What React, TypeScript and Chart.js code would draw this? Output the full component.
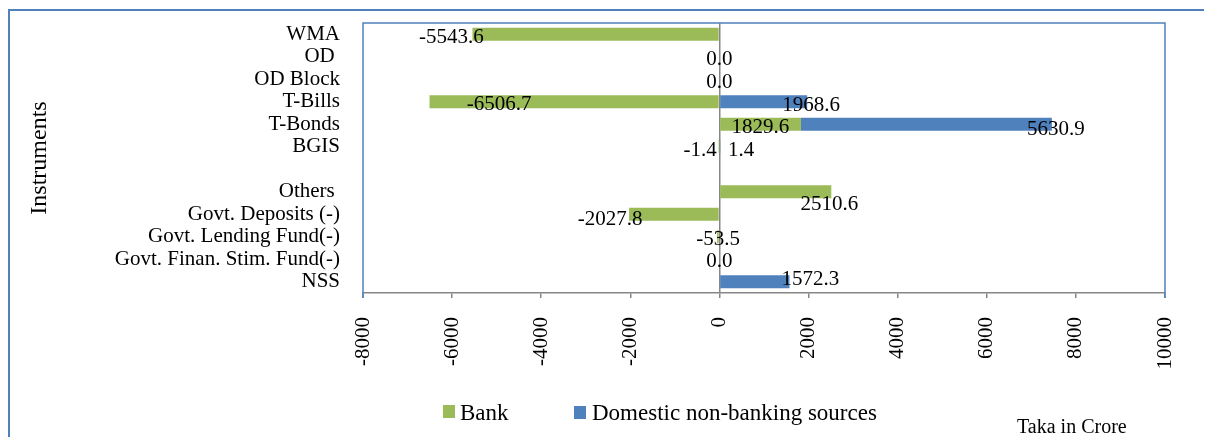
import React, { useEffect, useRef } from "react";
import { Chart, registerables } from "chart.js";

Chart.register(...registerables);

// ---------- data ----------
const categories = [
  "WMA",
  "OD ",
  "OD Block",
  "T-Bills",
  "T-Bonds",
  "BGIS",
  "",
  "Others ",
  "Govt. Deposits (-)",
  "Govt. Lending Fund(-)",
  "Govt. Finan. Stim. Fund(-)",
  "NSS",
];
const bankValues: (number | null)[] = [-5543.6, 0.0, 0.0, -6506.7, 1829.6, -1.4, null, 2510.6, -2027.8, -53.5, 0.0, null];
const nonBankValues: (number | null)[] = [null, null, null, 1968.6, 5630.9, 1.4, null, null, null, null, null, 1572.3];
const seriesNames = ["Bank", "Domestic non-banking sources"];
const xMin = -8000;
const xMax = 10000;
const xStep = 2000;
const yAxisTitle = "Instruments";
const unitNote = "Taka in Crore";
const chartTitle = "Chart 4: Instrument-wise Government Net Borrowings (Net), July-August of FY24";

// ---------- styles ----------
const SERIF = "'Times New Roman', 'Liberation Serif', serif";
const seriesColors = ["#9BBB59", "#4F81BD"];
const FRAME_BLUE = "#4F81BD";
const AXIS_GRAY = "#868686";

// label nudges [dx, dy] relative to bar end / row centre (hand-placed labels in source)
const bankLabelShift: [number, number][] = [
  [-21, 1.3], [0, 1], [0, 1.2], [69.5, 1.3], [-40.6, 1.3], [-19.2, 2.3], [0, 0], [-2, 10.7], [-19, 3.7], [1, 1.5], [0, 0.7], [0, 0],
];
const nonBankLabelShift: [number, number][] = [
  [0, 0], [0, 0], [0, 0], [4, 1.7], [4, 3.3], [21.6, 2.3], [0, 0], [0, 0], [0, 0], [0, 0], [0, 0], [21, -4],
];
const labelShifts = [bankLabelShift, nonBankLabelShift];

const CANVAS_W = 1204;
const CANVAS_H = 437;
const Y_AXIS_WIDTH = 355;
const X_AXIS_HEIGHT = 152;

const valueLabels = {
  id: "valueLabels",
  afterDatasetsDraw(chart: any) {
    const ctx = chart.ctx;
    const size = 21;
    ctx.save();
    ctx.font = `${size}px ${SERIF}`;
    ctx.fillStyle = "#000";
    ctx.textAlign = "center";
    ctx.textBaseline = "alphabetic";
    chart.data.datasets.forEach((ds: any, di: number) => {
      const meta = chart.getDatasetMeta(di);
      ds.data.forEach((v: number | null, i: number) => {
        if (v === null || v === undefined) return;
        const el = meta.data[i];
        const [dx, dy] = labelShifts[di][i] || [0, 0];
        ctx.fillText(v.toFixed(1), el.x + dx, el.y + dy + 0.338 * size);
      });
    });
    ctx.restore();
  },
};

const plotFrame = {
  id: "plotFrame",
  afterDraw(chart: any) {
    const { left, right, top, bottom } = chart.chartArea;
    const ctx = chart.ctx;
    ctx.save();
    ctx.strokeStyle = FRAME_BLUE;
    ctx.lineWidth = 1.5;
    ctx.beginPath();
    ctx.moveTo(left, bottom + 5);
    ctx.lineTo(left, top);
    ctx.lineTo(right, top);
    ctx.lineTo(right, bottom + 5);
    ctx.stroke();
    ctx.restore();
  },
};

export default function App() {
  const canvasRef = useRef<HTMLCanvasElement | null>(null);

  useEffect(() => {
    if (!canvasRef.current) return;
    const chart = new Chart(canvasRef.current, {
      type: "bar",
      data: {
        labels: categories,
        datasets: [
          {
            label: seriesNames[0],
            data: bankValues,
            backgroundColor: seriesColors[0],
            borderWidth: 0,
            barPercentage: 0.58,
            categoryPercentage: 1,
          },
          {
            label: seriesNames[1],
            data: nonBankValues,
            backgroundColor: seriesColors[1],
            borderWidth: 0,
            barPercentage: 0.58,
            categoryPercentage: 1,
          },
        ],
      },
      options: {
        indexAxis: "y",
        responsive: false,
        animation: false,
        layout: { padding: { top: 15, right: 47, left: 0, bottom: 0 } },
        plugins: {
          legend: { display: false },
          tooltip: { enabled: false },
          title: { display: false },
        },
        scales: {
          x: {
            type: "linear",
            min: xMin,
            max: xMax,
            stacked: true,
            ticks: {
              stepSize: xStep,
              autoSkip: false,
              minRotation: 90,
              maxRotation: 90,
              padding: 19,
              color: "#000",
              font: { family: SERIF, size: 21 },
              callback: (v: any) => String(v),
            },
            grid: {
              color: (c: any) => (c.tick && c.tick.value === 0 ? AXIS_GRAY : "rgba(0,0,0,0)"),
              lineWidth: 1.5,
              tickColor: AXIS_GRAY,
              tickLength: 5,
              drawTicks: true,
            },
            border: { display: true, color: AXIS_GRAY, width: 1.5 },
            afterFit: (s: any) => {
              s.height = X_AXIS_HEIGHT;
              s.paddingLeft = 0;
              s.paddingRight = 0;
            },
          },
          y: {
            type: "category",
            stacked: true,
            offset: true,
            grid: { display: false, drawTicks: false },
            border: { display: false },
            ticks: {
              autoSkip: false,
              padding: 23,
              color: "#000",
              font: { family: SERIF, size: 21 },
            },
            title: {
              display: true,
              text: yAxisTitle,
              color: "#000",
              font: { family: SERIF, size: 24 },
              padding: { top: 17.6, bottom: 0 },
            },
            afterFit: (s: any) => {
              s.width = Y_AXIS_WIDTH;
              s.paddingTop = 0;
              s.paddingBottom = 0;
            },
          },
        },
      } as any,
      plugins: [valueLabels, plotFrame],
    });
    return () => chart.destroy();
  }, []);

  const legendText: React.CSSProperties = {
    position: "absolute",
    fontFamily: SERIF,
    fontSize: 23,
    lineHeight: "23px",
    color: "#000",
    whiteSpace: "nowrap",
  };

  return (
    <div style={{ position: "relative", width: CANVAS_W, height: 429 }}>
      <div
        style={{
          position: "absolute",
          left: 0,
          top: -23.5,
          width: 1186,
          textAlign: "center",
          fontFamily: SERIF,
          fontWeight: "bold",
          fontSize: 20,
          lineHeight: "20px",
          color: "#1F3864",
          whiteSpace: "nowrap",
        }}
      >
        {chartTitle}
      </div>
      <div style={{ position: "absolute", left: 0, top: 1, width: 2, height: 436, background: FRAME_BLUE }} />
      <div style={{ position: "absolute", left: 0, top: 1, width: CANVAS_W, height: 2, background: FRAME_BLUE }} />
      <canvas
        ref={canvasRef}
        width={CANVAS_W}
        height={CANVAS_H}
        style={{ position: "absolute", left: 0, top: 0 }}
      />
      <div style={{ position: "absolute", left: 435, top: 397, width: 12, height: 13, background: seriesColors[0] }} />
      <div style={{ ...legendText, left: 452, top: 392.7 }}>{seriesNames[0]}</div>
      <div style={{ position: "absolute", left: 566, top: 398, width: 12, height: 13, background: seriesColors[1] }} />
      <div style={{ ...legendText, left: 584, top: 392.7 }}>{seriesNames[1]}</div>
      <div style={{ ...legendText, fontSize: 20, lineHeight: "20px", left: 1009, top: 408 }}>{unitNote}</div>
    </div>
  );
}
